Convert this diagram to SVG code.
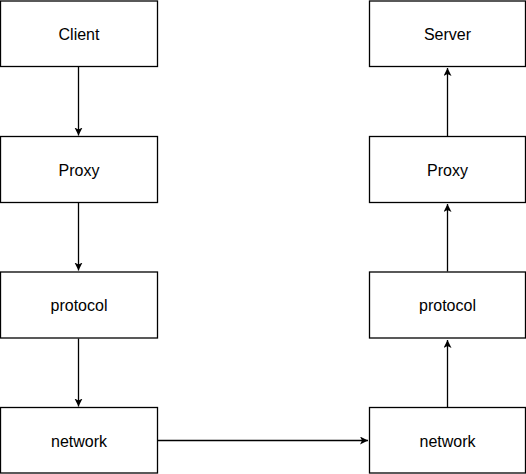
<svg xmlns="http://www.w3.org/2000/svg" width="526" height="474" viewBox="0 0 526 474">
<style>
.box{fill:#fff;stroke:#000;stroke-width:1.3}
.lbl{font-family:"Liberation Sans",Arial,sans-serif;font-size:16px;fill:#000;text-anchor:middle;dominant-baseline:central}
.edge{stroke:#000;stroke-width:1.3;fill:none;marker-end:url(#ah)}
</style>
<defs>
<marker id="ah" markerWidth="10" markerHeight="10" refX="8" refY="4" orient="auto" markerUnits="userSpaceOnUse">
<path d="M0,0 L8,4 L0,8 L2,4 Z" fill="#000"/>
</marker>
</defs>
<rect width="526" height="474" fill="#fff"/>
<g id="connectors">
<path class="edge" d="M78.5,66.5 V135.5"/>
<path class="edge" d="M78.5,202.5 V270.5"/>
<path class="edge" d="M78.5,338.5 V406.5"/>
<path class="edge" d="M157.5,440.5 H368"/>
<path class="edge" d="M447.5,407.5 V340"/>
<path class="edge" d="M447.5,271.5 V204"/>
<path class="edge" d="M447.5,136.5 V68"/>
</g>
<g id="client"><rect class="box" x="0.5" y="1" width="157" height="65.5"/><text class="lbl" x="79" y="34">Client</text></g>
<g id="proxy-left"><rect class="box" x="0.5" y="136.5" width="157" height="66"/><text class="lbl" x="79" y="170">Proxy</text></g>
<g id="protocol-left"><rect class="box" x="0.5" y="272" width="157" height="66"/><text class="lbl" x="79" y="305">protocol</text></g>
<g id="network-left"><rect class="box" x="0.5" y="407.5" width="157" height="65.5"/><text class="lbl" x="79" y="441">network</text></g>
<g id="server"><rect class="box" x="369.5" y="1" width="156" height="65.5"/><text class="lbl" x="447.5" y="34">Server</text></g>
<g id="proxy-right"><rect class="box" x="369.5" y="136.5" width="156" height="66"/><text class="lbl" x="447.5" y="170">Proxy</text></g>
<g id="protocol-right"><rect class="box" x="369.5" y="272" width="156" height="66"/><text class="lbl" x="447.5" y="305">protocol</text></g>
<g id="network-right"><rect class="box" x="369.5" y="407.5" width="156" height="65.5"/><text class="lbl" x="447.5" y="441">network</text></g>
</svg>
